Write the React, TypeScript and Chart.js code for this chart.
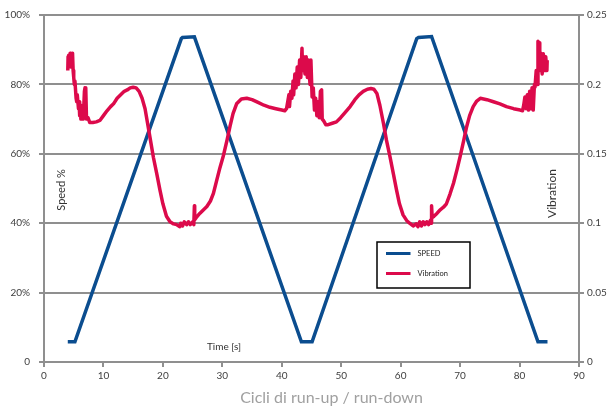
import { useEffect, useRef } from 'react';
import { Chart, registerables } from 'chart.js';
Chart.register(...registerables);

// ---- Data ----
const seriesNames = ['SPEED', 'Vibration'];
const xTickLabels = ['0', '10', '20', '30', '40', '50', '60', '70', '80', '90'];
const speedTickLabels = ['0', '20%', '40%', '60%', '80%', '100%'];
const vibTickLabels = ['0', '0.05', '0.1', '0.15', '0.2', '0.25'];
const xTitle = 'Cicli di run-up / run-down';
const innerXLabel = 'Time [s]';
const yLeftTitle = 'Speed %';
const yRightTitle = 'Vibration';

const speedX = [4.0, 5.2, 23.1, 23.3, 25.3, 43.3, 45.1, 62.7, 63.0, 65.2, 83.1, 84.7];
const speedY = [5.8, 5.8, 93.2, 93.5, 93.7, 5.8, 5.8, 93.2, 93.5, 93.8, 5.8, 5.8];

const vibX = [
  4.0, 4.05, 4.1, 4.2, 4.3, 4.4, 4.5, 4.6, 4.7, 4.8, 4.9, 5.0, 5.1, 5.2, 5.4, 5.5, 5.6, 5.8, 5.9, 6.0,
  6.1, 6.2, 6.3, 6.4, 6.5, 6.6, 6.8, 6.9, 7.0, 7.05, 7.15, 7.4, 7.7, 8.2, 8.8, 9.4, 10.0, 10.6, 11.2, 11.7,
  12.3, 12.9, 13.5, 14.0, 14.5, 15.0, 15.5, 16.0, 16.5, 17.0, 17.4, 17.9, 18.4, 19.0, 19.5, 20.0, 20.6, 21.2, 21.8, 22.3,
  22.8, 23.0, 23.3, 23.6, 24.0, 24.3, 24.6, 25.0, 25.2, 25.3, 25.35, 25.6, 26.2, 26.8, 27.4, 28.0, 28.5, 29.0, 29.6, 30.2,
  30.8, 31.3, 31.8, 32.4, 33.2, 34.1, 35.0, 36.0, 37.0, 38.0, 39.0, 40.0, 40.5, 40.8, 41.0, 41.2, 41.3, 41.5, 41.7, 41.9,
  42.0, 42.2, 42.4, 42.6, 42.8, 43.0, 43.2, 43.4, 43.5, 43.7, 43.9, 44.1, 44.3, 44.5, 44.75, 44.9, 45.1, 45.3, 45.5, 45.7,
  45.9, 46.1, 46.3, 46.5, 46.7, 46.8, 47.0, 47.4, 47.8, 48.5, 49.2, 49.9, 50.6, 51.5, 52.3, 53.0, 53.7, 54.4, 55.0, 55.5,
  56.0, 56.5, 57.1, 57.6, 58.2, 58.8, 59.3, 59.8, 60.4, 61.0, 61.5, 62.1, 62.6, 62.9, 63.2, 63.5, 63.8, 64.1, 64.4, 64.7,
  65.0, 65.15, 65.2, 65.3, 65.6, 66.1, 66.6, 67.2, 67.7, 68.3, 68.9, 69.5, 70.0, 70.6, 71.1, 71.6, 72.2, 72.8, 73.4, 74.5,
  75.6, 76.7, 77.8, 79.0, 80.1, 80.5, 80.7, 80.9, 81.1, 81.3, 81.5, 81.7, 81.9, 82.1, 82.3, 82.5, 82.6, 82.8, 83.0, 83.1,
  83.2, 83.3, 83.4, 83.6, 83.8, 84.0, 84.2, 84.4, 84.6, 84.65
];
const vibY = [
  0.210, 0.220, 0.2125, 0.221, 0.215, 0.2225, 0.2125, 0.220, 0.2175, 0.2225, 0.210, 0.205, 0.200, 0.2025, 0.190, 0.1875, 0.1925, 0.1825, 0.1875, 0.1775,
  0.185, 0.175, 0.1825, 0.175, 0.180, 0.175, 0.195, 0.1975, 0.1775, 0.1975, 0.175, 0.176, 0.1725, 0.1725, 0.173, 0.174, 0.1775, 0.181, 0.184, 0.186,
  0.190, 0.1925, 0.195, 0.196, 0.1975, 0.198, 0.1975, 0.195, 0.190, 0.1825, 0.1725, 0.160, 0.1475, 0.135, 0.124, 0.114, 0.105, 0.101, 0.0995, 0.099,
  0.0975, 0.100, 0.098, 0.101, 0.099, 0.101, 0.099, 0.101, 0.099, 0.1125, 0.1025, 0.104, 0.107, 0.1095, 0.112, 0.116, 0.1215, 0.130, 0.140, 0.149,
  0.160, 0.170, 0.179, 0.186, 0.1895, 0.190, 0.189, 0.187, 0.185, 0.1835, 0.1825, 0.1815, 0.181, 0.1825, 0.1875, 0.1925, 0.184, 0.195, 0.190, 0.2025,
  0.1925, 0.2075, 0.1975, 0.2125, 0.200, 0.2175, 0.205, 0.226, 0.210, 0.220, 0.2075, 0.220, 0.205, 0.2175, 0.200, 0.2175, 0.191, 0.1975, 0.1815, 0.190,
  0.1775, 0.1875, 0.176, 0.195, 0.196, 0.175, 0.174, 0.171, 0.171, 0.172, 0.173, 0.176, 0.1795, 0.184, 0.189, 0.1925, 0.195, 0.1965, 0.197, 0.1965,
  0.1935, 0.185, 0.172, 0.160, 0.148, 0.135, 0.124, 0.114, 0.106, 0.102, 0.100, 0.098, 0.0995, 0.0975, 0.101, 0.098, 0.101, 0.099, 0.101, 0.099,
  0.102, 0.100, 0.1125, 0.104, 0.105, 0.107, 0.1095, 0.1115, 0.114, 0.121, 0.129, 0.139, 0.148, 0.1595, 0.1695, 0.1775, 0.184, 0.188, 0.190, 0.189,
  0.1875, 0.186, 0.184, 0.1825, 0.1815, 0.181, 0.185, 0.191, 0.1825, 0.1925, 0.1815, 0.195, 0.1825, 0.1975, 0.1815, 0.200, 0.198, 0.210, 0.200, 0.231,
  0.215, 0.230, 0.210, 0.2225, 0.2075, 0.222, 0.210, 0.220, 0.210, 0.2175
];

const speedColor = '#0b4d8f';
const vibColor = '#dc0a4b';
const gridColor = '#8f8f8f';
const tickColor = '#404040';
const fontFamily = 'Lato, "Open Sans", sans-serif';

const overlay = {
  id: 'overlay',
  afterDraw(chart: any) {
    const ctx = chart.ctx as CanvasRenderingContext2D;
    ctx.save();
    ctx.textAlign = 'center';
    ctx.textBaseline = 'middle';
    ctx.fillStyle = '#333333';

    ctx.save();
    ctx.translate(61.5, 190);
    ctx.rotate(-Math.PI / 2);
    ctx.font = `11px ${fontFamily}`;
    ctx.fillText(yLeftTitle, 0, 0);
    ctx.restore();

    ctx.save();
    ctx.translate(552.5, 193.5);
    ctx.rotate(-Math.PI / 2);
    ctx.font = `12px ${fontFamily}`;
    ctx.fillText(yRightTitle, 0, 0);
    ctx.restore();

    ctx.font = `10px ${fontFamily}`;
    ctx.fillText(innerXLabel, 224, 347);

    ctx.fillStyle = '#a0a0a0';
    ctx.font = `16px ${fontFamily}`;
    ctx.fillText(xTitle, 331.5, 398);

    ctx.fillStyle = '#ffffff';
    ctx.fillRect(377, 242, 93, 46);
    ctx.strokeStyle = '#000000';
    ctx.lineWidth = 1.5;
    ctx.strokeRect(377, 242, 93, 46);
    const colors = [speedColor, vibColor];
    const ys = [253.5, 273.5];
    seriesNames.forEach((name, i) => {
      ctx.strokeStyle = colors[i];
      ctx.lineWidth = 3;
      ctx.beginPath();
      ctx.moveTo(386, ys[i]);
      ctx.lineTo(410.5, ys[i]);
      ctx.stroke();
      ctx.fillStyle = '#222222';
      ctx.font = `7.5px ${fontFamily}`;
      ctx.textAlign = 'left';
      ctx.fillText(name, 417.5, ys[i]);
    });
    ctx.restore();
  },
};

export default function App() {
  const ref = useRef<HTMLCanvasElement>(null);
  useEffect(() => {
    document.body.style.margin = '0';
    const canvas = ref.current;
    if (!canvas) return;
    const chart = new Chart(canvas, {
      type: 'line',
      data: {
        datasets: [
          {
            label: seriesNames[0],
            data: speedX.map((x, i) => ({ x, y: speedY[i] })),
            borderColor: speedColor,
            backgroundColor: speedColor,
            borderWidth: 3.5,
            pointRadius: 0,
            tension: 0,
            yAxisID: 'y',
            order: 1,
          },
          {
            label: seriesNames[1],
            data: vibX.map((x, i) => ({ x, y: vibY[i] })),
            borderColor: vibColor,
            backgroundColor: vibColor,
            borderWidth: 3.5,
            borderJoinStyle: 'round',
            pointRadius: 0,
            tension: 0,
            yAxisID: 'y1',
            order: 0,
          },
        ],
      },
      options: {
        responsive: false,
        animation: false,
        events: [],
        layout: { padding: { top: 15, left: 0, right: 0, bottom: 0 } },
        plugins: { legend: { display: false }, tooltip: { enabled: false }, title: { display: false } },
        scales: {
          x: {
            type: 'linear',
            min: 0,
            max: 90,
            ticks: {
              stepSize: 10,
              padding: 3,
              color: tickColor,
              font: { family: fontFamily, size: 10 },
              maxRotation: 0,
              callback: (_v: any, i: number) => xTickLabels[i],
            },
            grid: { drawOnChartArea: false, drawTicks: true, tickLength: 5, color: gridColor, lineWidth: 2 },
            border: { display: true, color: gridColor, width: 2 },
            afterFit: (s: any) => { s.height = 45; },
          },
          y: {
            type: 'linear',
            position: 'left',
            min: 0,
            max: 100,
            ticks: {
              stepSize: 20,
              padding: 9,
              color: tickColor,
              font: { family: fontFamily, size: 10 },
              callback: (_v: any, i: number) => speedTickLabels[i],
            },
            grid: { drawOnChartArea: true, drawTicks: true, tickLength: 5, color: gridColor, lineWidth: 2 },
            border: { display: true, color: gridColor, width: 2 },
            afterFit: (s: any) => { s.width = 44; },
          },
          y1: {
            type: 'linear',
            position: 'right',
            min: 0,
            max: 0.25,
            ticks: {
              stepSize: 0.05,
              padding: 3,
              color: tickColor,
              font: { family: fontFamily, size: 10 },
              callback: (_v: any, i: number) => vibTickLabels[i],
            },
            grid: { drawOnChartArea: false, drawTicks: true, tickLength: 5, color: gridColor, lineWidth: 2 },
            border: { display: true, color: gridColor, width: 2 },
            afterFit: (s: any) => { s.width = 29; },
          },
        },
      },
      plugins: [overlay],
    } as any);
    return () => chart.destroy();
  }, []);
  return (
    <div style={{ width: 608, height: 407, position: 'relative' }}>
      <canvas ref={ref} width={608} height={407} style={{ display: 'block' }} />
    </div>
  );
}
